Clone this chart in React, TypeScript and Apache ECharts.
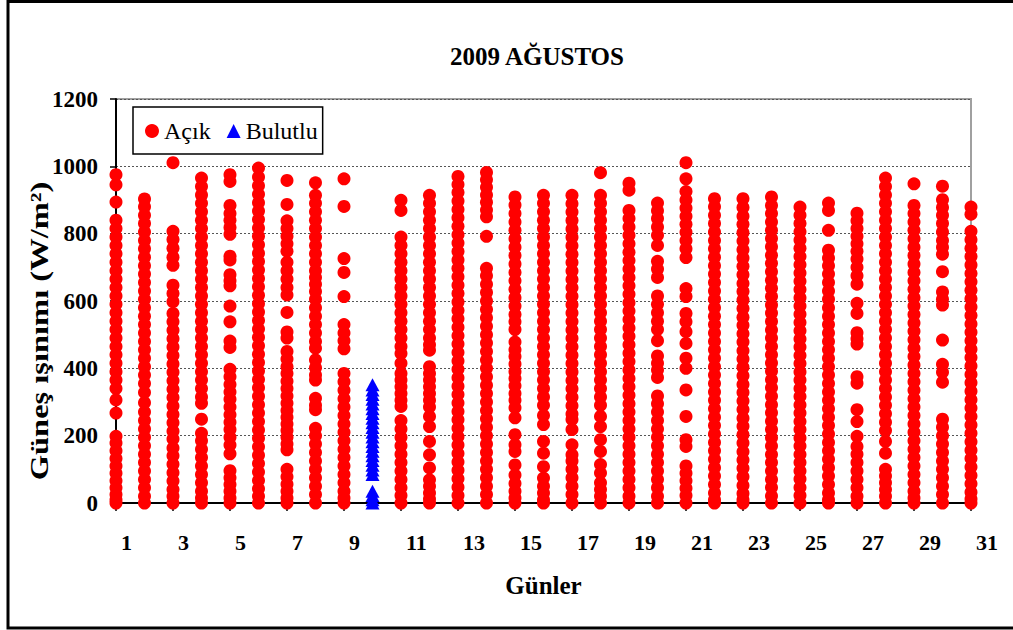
import React, { useEffect, useRef } from "react";
import * as echarts from "echarts";

const days = ["1","2","3","4","5","6","7","8","9","10","11","12","13","14","15","16","17","18","19","20","21","22","23","24","25","26","27","28","29","30","31"];

// Açık (clear) readings per day, W/m²
const day01 = [975, 945, 894, 840, 815, 790, 765, 740, 715, 690, 665, 640, 615, 590, 565, 540, 515, 490, 465, 440, 415, 390, 365, 340, 306, 267, 198, 178, 155, 132, 110, 88, 66, 45, 25, 10, 0];
const day02 = [903, 880, 855, 830, 805, 780, 755, 730, 705, 680, 655, 630, 605, 580, 555, 530, 505, 480, 455, 430, 405, 380, 355, 328, 298, 270, 245, 220, 195, 170, 145, 120, 95, 70, 45, 20, 0];
const day03 = [1011, 807, 783, 757, 730, 706, 647, 622, 598, 563, 538, 513, 488, 463, 438, 413, 388, 363, 338, 313, 288, 263, 238, 213, 190, 163, 140, 115, 90, 65, 40, 20, 0];
const day04 = [965, 940, 915, 890, 865, 840, 815, 790, 765, 740, 715, 690, 665, 640, 615, 590, 565, 540, 515, 490, 465, 440, 415, 390, 365, 340, 315, 296, 249, 207, 185, 160, 135, 110, 85, 60, 35, 15, 0];
const day05 = [975, 955, 884, 860, 840, 818, 798, 733, 722, 678, 660, 645, 585, 538, 481, 462, 397, 375, 352, 330, 308, 285, 262, 240, 218, 195, 172, 146, 96, 75, 55, 35, 15, 0];
const day06 = [995, 968, 942, 917, 892, 867, 842, 817, 792, 767, 742, 717, 692, 667, 642, 617, 592, 567, 542, 517, 492, 467, 442, 417, 392, 367, 342, 317, 292, 267, 242, 217, 192, 167, 142, 117, 92, 67, 42, 20, 0];
const day07 = [958, 887, 838, 815, 792, 770, 748, 715, 690, 665, 640, 618, 566, 508, 490, 450, 428, 405, 385, 362, 340, 318, 296, 275, 255, 235, 215, 195, 175, 158, 100, 78, 56, 35, 15, 0];
const day08 = [951, 914, 890, 865, 840, 815, 790, 765, 740, 715, 690, 670, 650, 628, 605, 580, 555, 530, 505, 480, 460, 425, 402, 380, 365, 311, 290, 277, 222, 200, 175, 150, 125, 100, 75, 50, 25, 0];
const day09 = [963, 881, 726, 685, 613, 530, 505, 482, 458, 385, 360, 335, 310, 285, 260, 235, 210, 185, 160, 135, 110, 85, 60, 35, 15, 0];
const day10: number[] = [];
const day11 = [899, 869, 790, 765, 740, 715, 690, 665, 640, 615, 590, 565, 540, 515, 490, 465, 444, 415, 385, 365, 345, 325, 305, 287, 245, 220, 195, 170, 145, 120, 95, 70, 45, 22, 0];
const day12 = [914, 890, 865, 840, 815, 790, 765, 740, 715, 690, 665, 640, 615, 590, 565, 540, 515, 490, 470, 454, 405, 385, 365, 345, 325, 305, 285, 257, 227, 183, 143, 104, 69, 50, 30, 12, 0];
const day13 = [970, 946, 922, 897, 872, 847, 822, 797, 772, 747, 722, 697, 672, 647, 622, 597, 572, 547, 522, 497, 472, 447, 422, 397, 372, 347, 322, 297, 272, 247, 222, 197, 172, 147, 122, 97, 72, 47, 22, 0];
const day14 = [982, 960, 938, 915, 893, 870, 850, 792, 697, 675, 650, 625, 600, 575, 550, 525, 500, 475, 450, 425, 400, 375, 350, 325, 300, 275, 250, 225, 200, 175, 150, 125, 100, 75, 50, 25, 0];
const day15 = [909, 885, 860, 835, 810, 785, 760, 735, 710, 685, 660, 635, 610, 585, 560, 538, 515, 478, 455, 435, 413, 390, 370, 348, 325, 305, 283, 253, 203, 173, 153, 113, 83, 58, 35, 15, 0];
const day16 = [914, 890, 865, 840, 815, 790, 765, 740, 715, 690, 665, 640, 615, 590, 565, 540, 515, 490, 465, 440, 415, 390, 365, 340, 315, 290, 260, 233, 183, 148, 108, 74, 50, 30, 10, 0];
const day17 = [914, 889, 864, 839, 814, 789, 764, 739, 714, 689, 664, 639, 614, 589, 564, 539, 514, 489, 464, 439, 414, 389, 364, 339, 314, 289, 264, 248, 218, 173, 143, 125, 100, 75, 50, 25, 0];
const day18 = [981, 914, 890, 865, 840, 815, 790, 765, 740, 715, 690, 665, 640, 615, 590, 565, 540, 515, 490, 465, 440, 415, 390, 365, 340, 315, 290, 257, 227, 188, 153, 114, 89, 60, 40, 20, 0];
const day19 = [950, 929, 869, 845, 820, 795, 770, 745, 720, 695, 670, 645, 620, 595, 570, 545, 520, 495, 470, 445, 420, 395, 370, 345, 320, 295, 270, 245, 220, 195, 170, 145, 120, 95, 70, 45, 20, 0];
const day20 = [891, 868, 845, 820, 795, 765, 718, 695, 670, 615, 590, 565, 540, 515, 482, 437, 415, 395, 373, 318, 295, 270, 245, 220, 195, 170, 145, 120, 95, 70, 45, 20, 0];
const day21 = [1011, 963, 925, 900, 876, 852, 828, 804, 780, 755, 729, 637, 613, 563, 538, 509, 474, 430, 400, 336, 257, 188, 168, 110, 88, 66, 44, 22, 0];
const day22 = [904, 880, 855, 830, 805, 780, 755, 730, 705, 680, 655, 630, 605, 580, 555, 530, 505, 480, 455, 430, 405, 380, 355, 330, 305, 280, 255, 230, 205, 180, 155, 130, 105, 80, 55, 30, 10, 0];
const day23 = [904, 878, 852, 828, 803, 778, 752, 728, 703, 678, 652, 628, 603, 578, 552, 528, 503, 478, 452, 428, 403, 378, 352, 328, 303, 278, 252, 228, 203, 178, 152, 128, 103, 78, 52, 28, 10, 0];
const day24 = [909, 884, 860, 835, 810, 786, 761, 736, 712, 687, 662, 638, 613, 588, 564, 539, 514, 490, 465, 440, 416, 391, 366, 342, 317, 292, 268, 243, 218, 194, 169, 144, 120, 95, 70, 46, 21, 0];
const day25 = [879, 855, 830, 806, 781, 757, 732, 708, 683, 659, 634, 610, 585, 561, 536, 512, 487, 463, 438, 414, 389, 365, 340, 316, 291, 267, 242, 218, 193, 169, 144, 120, 95, 71, 46, 22, 0];
const day26 = [891, 869, 810, 751, 728, 705, 680, 655, 630, 605, 580, 555, 530, 505, 480, 455, 430, 405, 380, 355, 330, 305, 280, 255, 230, 205, 180, 155, 130, 105, 80, 55, 30, 10, 0];
const day27 = [861, 838, 815, 792, 770, 748, 725, 700, 675, 650, 593, 563, 506, 488, 472, 375, 356, 277, 242, 198, 168, 145, 120, 95, 70, 45, 20, 0];
const day28 = [965, 940, 915, 890, 865, 840, 815, 790, 765, 740, 715, 690, 665, 640, 615, 590, 565, 540, 515, 490, 465, 440, 415, 390, 365, 340, 315, 290, 265, 240, 215, 183, 148, 100, 80, 60, 40, 20, 0];
const day29 = [948, 884, 860, 835, 810, 785, 760, 735, 710, 685, 660, 635, 610, 585, 560, 535, 510, 485, 460, 435, 410, 385, 360, 335, 310, 285, 260, 235, 210, 185, 160, 135, 110, 85, 60, 35, 15, 0];
const day30 = [941, 901, 878, 855, 830, 805, 780, 760, 739, 687, 627, 605, 588, 484, 412, 388, 359, 249, 225, 200, 175, 150, 125, 100, 75, 50, 25, 0];
const day31 = [879, 858, 807, 782, 757, 732, 707, 682, 657, 632, 607, 582, 557, 532, 507, 482, 457, 432, 407, 382, 357, 332, 307, 282, 257, 232, 207, 182, 157, 132, 107, 82, 57, 32, 12, 0];

// Bulutlu (cloudy) readings, day 10
const bulutluDay = "10";
const bulutlu10 = [351, 336, 322, 308, 294, 280, 266, 252, 238, 224, 210, 196, 182, 168, 154, 140, 126, 112, 98, 85, 35, 22, 10, 0];

const acikByDay = [day01, day02, day03, day04, day05, day06, day07, day08, day09, day10, day11, day12, day13, day14, day15, day16, day17, day18, day19, day20, day21, day22, day23, day24, day25, day26, day27, day28, day29, day30, day31];

const yTicks = [0, 200, 400, 600, 800, 1000, 1200];

const FONT = "'Liberation Serif', 'Times New Roman', serif";

export default function App() {
  const ref = useRef<HTMLDivElement>(null);

  useEffect(() => {
    if (!ref.current) return;
    const chart = echarts.init(ref.current, undefined, { renderer: "svg" });

    const acikData: [string, number][] = [];
    acikByDay.forEach((vals, i) => {
      vals.forEach((v) => acikData.push([days[i], v]));
    });
    const bulutluData: [string, number][] = bulutlu10.map((v) => [bulutluDay, v]);

    chart.setOption({
      animation: false,
      backgroundColor: "#ffffff",
      title: {
        text: "2009 AĞUSTOS",
        left: 537,
        top: 44,
        textAlign: "center",
        padding: 0,
        textStyle: { fontFamily: FONT, fontWeight: "bold", fontSize: 25, color: "#000" },
      },
      legend: {
        left: 133,
        top: 107,
        orient: "horizontal",
        padding: [12, 5, 11, 12],
        itemGap: 16,
        itemWidth: 14,
        itemHeight: 14,
        borderColor: "#000",
        borderWidth: 1.5,
        backgroundColor: "#fff",
        textStyle: { fontFamily: FONT, fontSize: 24, color: "#000" },
        data: [
          { name: "Açık", icon: "circle" },
          { name: "Bulutlu", icon: "triangle" },
        ],
      },
      grid: { left: 116, top: 99, width: 855, height: 404 },
      xAxis: {
        type: "category",
        data: days,
        boundaryGap: false,
        name: "Günler",
        nameLocation: "middle",
        nameGap: 70,
        nameTextStyle: { fontFamily: FONT, fontWeight: "bold", fontSize: 25, color: "#000" },
        axisLine: { lineStyle: { color: "#000", width: 2 } },
        axisTick: { interval: 1, length: 8, lineStyle: { color: "#000", width: 1.5 } },
        axisLabel: {
          interval: 1,
          align: "left",
          padding: [0, 0, 0, 5],
          margin: 28,
          fontFamily: FONT,
          fontWeight: "bold",
          fontSize: 22,
          color: "#000",
        },
        splitLine: { show: false },
      },
      yAxis: {
        type: "value",
        min: yTicks[0],
        max: yTicks[yTicks.length - 1],
        interval: 200,
        axisLine: { show: true, lineStyle: { color: "#000", width: 2 } },
        axisTick: { show: true, length: 6, lineStyle: { color: "#000", width: 1.5 } },
        axisLabel: {
          margin: 18,
          fontFamily: FONT,
          fontWeight: "bold",
          fontSize: 23,
          color: "#000",
          formatter: (v: number) => String(v),
        },
        splitLine: { show: true, lineStyle: { color: "#555", type: [2, 2], width: 1 } },
      },
      graphic: [
        {
          type: "rect",
          shape: { x: 8, y: 1.5, width: 1030, height: 626.5 },
          style: { fill: "none", stroke: "#000", lineWidth: 3 },
          silent: true,
        },
        {
          type: "polyline",
          shape: { points: [[116, 99], [971, 99], [971, 503]] },
          style: { fill: "none", stroke: "#a0a0a0", lineWidth: 2 },
          silent: true,
        },
        {
          type: "text",
          x: 39,
          y: 331,
          rotation: Math.PI / 2,
          scaleX: 1.3,
          style: {
            text: "Güneş ışınımı (W/m²)",
            font: "bold 25px 'Liberation Serif', 'Times New Roman', serif",
            fill: "#000",
            align: "center",
            verticalAlign: "middle",
          },
          silent: true,
        },
      ],
      series: [
        {
          name: "Açık",
          type: "scatter",
          symbol: "circle",
          symbolSize: 13,
          itemStyle: { color: "#ff0000", opacity: 1 },
          data: acikData,
          z: 3,
        },
        {
          name: "Bulutlu",
          type: "scatter",
          symbol: "triangle",
          symbolSize: [14, 13],
          itemStyle: { color: "#0000ff", opacity: 1 },
          data: bulutluData,
          z: 3,
        },
      ],
    });

    return () => chart.dispose();
  }, []);

  return (
    <div
      ref={ref}
      style={{ position: "absolute", left: 0, top: 0, width: 1013, height: 630, background: "#fff" }}
    />
  );
}
